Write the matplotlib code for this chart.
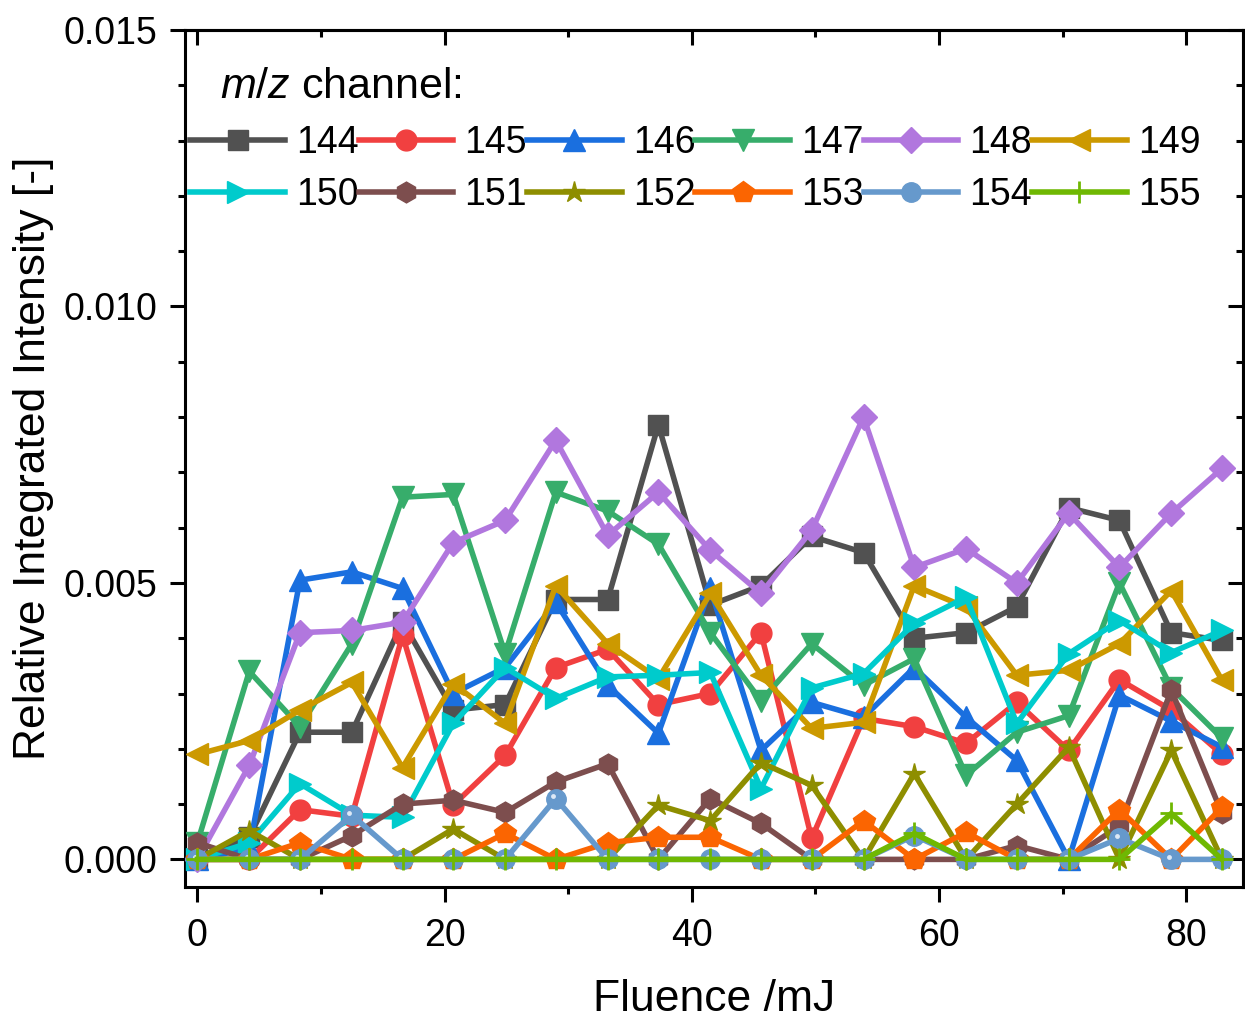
import numpy as np
import matplotlib
matplotlib.use("Agg")
import matplotlib.pyplot as plt
from matplotlib.ticker import MultipleLocator, FormatStrFormatter
from matplotlib.transforms import offset_copy

plt.rcParams['font.family'] = ['Liberation Sans', 'DejaVu Sans']
plt.rcParams['mathtext.fontset'] = 'custom'
plt.rcParams['mathtext.it'] = 'Liberation Sans:italic'
plt.rcParams['mathtext.rm'] = 'Liberation Sans'

# Data
fluence = [0, 4.2, 8.3, 12.5, 16.6, 20.7, 24.9, 29.0, 33.2, 37.3, 41.5,
           45.6, 49.7, 53.9, 58.0, 62.2, 66.3, 70.5, 74.6, 78.8, 82.9]

mz_144 = [0.0, 0.0004, 0.0023, 0.0023, 0.0043, 0.0027, 0.0028, 0.0047, 0.0047, 0.00786, 0.0046,
          0.00495, 0.00584, 0.00555, 0.0040, 0.0041, 0.00457, 0.00636, 0.00613, 0.0041, 0.00396]
mz_145 = [0.0, 0.0, 0.0009, 0.00078, 0.00405, 0.00098, 0.00188, 0.00347, 0.0038, 0.0028, 0.0030,
          0.0041, 0.00038, 0.00255, 0.0024, 0.0021, 0.00284, 0.00197, 0.00325, 0.0027, 0.0019]
mz_146 = [0.0, 0.0002, 0.00505, 0.0052, 0.0049, 0.0030, 0.00347, 0.00465, 0.00315, 0.00228, 0.0049,
          0.00197, 0.00284, 0.00257, 0.00347, 0.00257, 0.00179, 0.0, 0.00297, 0.0025, 0.00203]
mz_147 = [0.0003, 0.0034, 0.0024, 0.0039, 0.00655, 0.0066, 0.00372, 0.00664, 0.0063, 0.0057, 0.0041,
          0.00287, 0.0039, 0.00315, 0.00363, 0.00152, 0.0023, 0.0026, 0.0050, 0.0031, 0.00219]
mz_148 = [0.0, 0.0017, 0.0041, 0.00414, 0.00429, 0.00573, 0.00613, 0.00758, 0.00586, 0.00664, 0.00559,
          0.00481, 0.00595, 0.0080, 0.00528, 0.00562, 0.0050, 0.00626, 0.00528, 0.00626, 0.00707]
mz_149 = [0.0019, 0.00215, 0.0027, 0.0032, 0.00166, 0.00318, 0.00246, 0.00495, 0.0039, 0.00327, 0.00481,
          0.00333, 0.00237, 0.00248, 0.00495, 0.00456, 0.00333, 0.00342, 0.0039, 0.00486, 0.00324]
mz_150 = [0.0, 0.0003, 0.00137, 0.0008, 0.00076, 0.00246, 0.00347, 0.00291, 0.0033, 0.00333, 0.00338,
          0.00128, 0.0031, 0.00336, 0.00427, 0.00474, 0.00246, 0.00372, 0.00432, 0.00374, 0.00414]
mz_151 = [0.0003, 0.0, 0.0, 0.00043, 0.0010, 0.00107, 0.00085, 0.0014, 0.00173, 0.0, 0.0011,
          0.00065, 0.0, 0.0, 0.0, 0.0, 0.00025, 0.0, 0.0006, 0.00306, 0.00083]
mz_152 = [0.0, 0.00052, 0.0, 0.0, 0.0, 0.00055, 0.0, 0.0, 0.0, 0.00098, 0.0007,
          0.00175, 0.00134, 0.0, 0.00155, 0.0, 0.0010, 0.00203, 0.0, 0.00197, 0.0]
mz_153 = [0.0, 0.0, 0.0003, 0.0, 0.0, 0.0, 0.00047, 0.0, 0.0003, 0.0004, 0.0004,
          0.0, 0.0, 0.0007, 0.0, 0.00049, 0.0, 0.0, 0.0009, 0.0, 0.00094]
mz_154 = [0.0, 0.0, 0.0, 0.0008, 0.0, 0.0, 0.0, 0.0011, 0.0, 0.0, 0.0,
          0.0, 0.0, 0.0, 0.00043, 0.0, 0.0, 0.0, 0.00038, 0.0, 0.0]
mz_155 = [0.0, 0.0, 0.0, 0.0, 0.0, 0.0, 0.0, 0.0, 0.0, 0.0, 0.0,
          0.0, 0.0, 0.0, 0.00047, 0.0, 0.0, 0.0, 0.0, 0.00083, 0.0]

labels = ['144', '145', '146', '147', '148', '149', '150', '151', '152', '153', '154', '155']
series = [mz_144, mz_145, mz_146, mz_147, mz_148, mz_149,
          mz_150, mz_151, mz_152, mz_153, mz_154, mz_155]
colors = ['#515151', '#f14040', '#1a6fdf', '#37ad6b', '#b177de', '#cc9900',
          '#00cbcc', '#7d4e4e', '#8e8e00', '#fb6501', '#6699cc', '#6fb802']
markers = ['s', 'o', '^', 'v', 'D', '<', '>', 'h', '*', 'p', 'o', '+']
msizes = [14, 15, 16, 16, 13, 16, 16, 15, 16, 16, 14, 16]

fig = plt.figure(figsize=(12.45, 10.19), dpi=100)
ax = fig.add_axes([0.1486, 0.1295, 0.8498, 0.8411])

handles = []
for i, (lab, y) in enumerate(zip(labels, series)):
    h, = ax.plot(fluence, y, color=colors[i], lw=4, marker=markers[i],
                 ms=msizes[i], mfc=colors[i], mec=colors[i],
                 mew=2 if markers[i] == '+' else 1, zorder=2 + i)
    handles.append(h)
    if lab == '154':
        # shiny highlight of the sphere symbol
        hl = offset_copy(ax.transData, fig=fig, x=-1.8, y=1.8, units='points')
        ax.plot(fluence, y, ls='none', marker='o', ms=3.5, mfc='#dde9f6',
                mec='none', transform=hl, zorder=2 + i)

ax.set_xlim(-1, 84.6)
ax.set_ylim(-0.0005, 0.015)

ax.xaxis.set_major_locator(MultipleLocator(20))
ax.xaxis.set_minor_locator(MultipleLocator(10))
ax.yaxis.set_major_locator(MultipleLocator(0.005))
ax.yaxis.set_minor_locator(MultipleLocator(0.001))
ax.yaxis.set_major_formatter(FormatStrFormatter('%.3f'))

for s in ax.spines.values():
    s.set_linewidth(2.2)

ax.tick_params(axis='both', which='both', width=2.2, labelsize=27)
ax.tick_params(axis='both', which='major', length=11)
ax.tick_params(axis='both', which='minor', length=5)
ax.tick_params(axis='x', which='both', bottom=True, top=False, direction='out', pad=11)
ax.tick_params(axis='y', which='both', left=True, right=False, direction='out', pad=9)

# inward ticks on top and right
axt = ax.secondary_xaxis('top')
axt.xaxis.set_major_locator(MultipleLocator(20))
axt.xaxis.set_minor_locator(MultipleLocator(10))
axt.tick_params(which='both', direction='in', width=2.2, labeltop=False)
axt.tick_params(which='major', length=11)
axt.tick_params(which='minor', length=5)
axt.spines['top'].set_linewidth(2.2)
axr = ax.secondary_yaxis('right')
axr.yaxis.set_major_locator(MultipleLocator(0.005))
axr.yaxis.set_minor_locator(MultipleLocator(0.001))
axr.tick_params(which='both', direction='in', width=2.2, labelright=False)
axr.tick_params(which='major', length=11)
axr.tick_params(which='minor', length=5)
axr.spines['right'].set_linewidth(2.2)

ax.set_xlabel('Fluence /mJ', fontsize=32, labelpad=18)
ax.set_ylabel('Relative Integrated Intensity [-]', fontsize=32, labelpad=7)

# legend: 2 rows x 6 columns, filled row-wise
order = [0, 6, 1, 7, 2, 8, 3, 9, 4, 10, 5, 11]
leg = ax.legend([handles[k] for k in order], [labels[k] for k in order],
                ncol=6, loc='upper left', bbox_to_anchor=(0.005, 0.889),
                frameon=False, fontsize=27, numpoints=1, handlelength=2.52,
                handletextpad=0.3, columnspacing=0.0, labelspacing=0.42,
                borderpad=0, borderaxespad=0)
ax.text(0.033, 0.934, r'$\it{m/z}$ channel:', transform=ax.transAxes,
        fontsize=31, va='center', ha='left')

fig.savefig('out.png', dpi=100)
